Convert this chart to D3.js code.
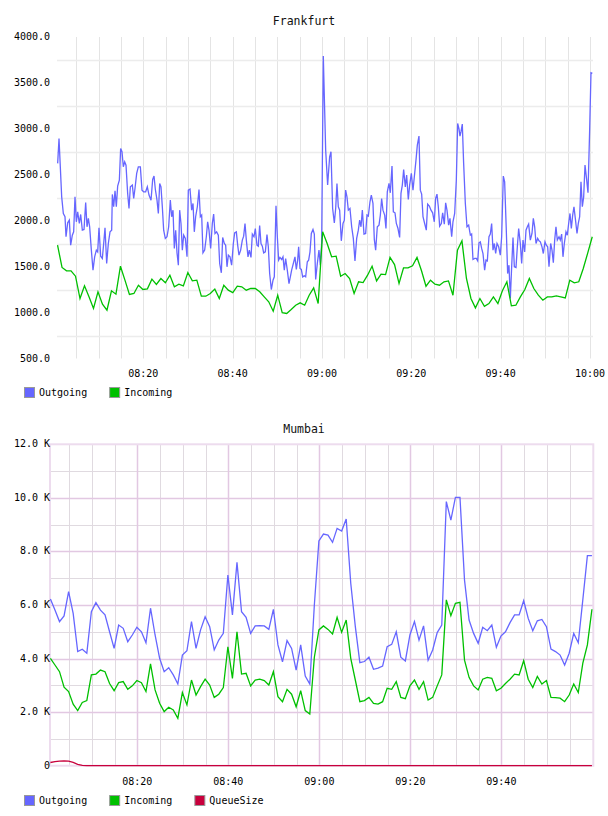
<!DOCTYPE html>
<html>
<head>
<meta charset="utf-8">
<script src="https://cdn.jsdelivr.net/npm/d3@7"></script>
<style>
body { margin: 0; background: #fff; }
text { font-family: "DejaVu Sans Mono", monospace; font-size: 10px; fill: #000; }
text.title { font-size: 11.5px; fill: #111; }
</style>
</head>
<body>
<div id="chart"></div>
<script>
// minutes after 08:00 for every sample
const fraOutgoing = [
  [0.83,2624],[1.13,2896],[1.73,2260],[2.1,2079],[2.47,2043],[2.7,1825],[3.07,1977],[3.44,2006],[3.74,1734],[4.11,1843],
  [4.41,1879],[4.71,2260],[5.01,1988],[5.31,2097],[5.68,1970],[5.98,2068],[6.35,1897],[6.73,1905],[7.1,2199],[7.4,1934],
  [7.7,2025],[7.99,1934],[8.37,1680],[8.74,1462],[9.11,1607],[9.49,1680],[9.79,1661],[10.08,1923],[10.46,1614],[10.83,1589],
  [11.13,1752],[11.43,1923],[11.8,1534],[12.17,1752],[12.55,1879],[12.92,1897],[13.07,2286],[13.37,2152],[13.67,2326],[13.96,2152],
  [14.26,2377],[14.64,2442],[14.93,2787],[15.23,2751],[15.53,2587],[15.83,2642],[16.13,2605],[16.5,2297],[16.8,2133],[17.1,2369],
  [17.55,2388],[17.85,2242],[18.14,2351],[18.52,2515],[18.89,2587],[19.34,2587],[19.71,2333],[20.08,2315],[20.53,2315],[20.9,2369],
  [21.28,2279],[21.73,2224],[22.1,2449],[22.4,2486],[22.7,2340],[23.07,2224],[23.37,2079],[23.67,2406],[23.96,2369],[24.26,2152],
  [24.56,1897],[24.93,1807],[25.31,1825],[25.68,1934],[26.05,2224],[26.35,2043],[26.65,2115],[26.95,1698],[27.25,1897],[27.55,1650],
  [27.85,1516],[28.14,2115],[28.44,1970],[28.74,1680],[29.04,1843],[29.41,1807],[29.79,1607],[30.08,2333],[30.46,2345],[30.83,2115],
  [31.13,2188],[31.42,1879],[31.72,2043],[32.1,2152],[32.47,2340],[32.77,2043],[33.07,2061],[33.36,1650],[33.74,1680],[34.11,1825],
  [34.41,1988],[34.71,1897],[35.08,1698],[35.45,1970],[35.75,2072],[36.05,1861],[36.42,1879],[36.8,1843],[37.1,1534],[37.47,1433],
  [37.77,1818],[38.14,1752],[38.44,1734],[38.74,1498],[39.04,1625],[39.41,1607],[39.78,1516],[40.16,1752],[40.45,1868],[40.83,1879],
  [41.13,1734],[41.42,1625],[41.8,1680],[42.17,1789],[42.47,1832],[42.77,1970],[43.07,1789],[43.44,1607],[43.74,1680],[44.11,1600],
  [44.41,1854],[44.78,1825],[45.08,1915],[45.45,1734],[45.75,1723],[46.05,1948],[46.35,1752],[46.65,1723],[46.95,1650],[47.32,1661],
  [47.69,1850],[47.99,1716],[48.29,1425],[48.66,1251],[49.04,1353],[49.33,1389],[49.71,2163],[50.01,1825],[50.3,1571],[50.6,1600],
  [50.98,1578],[51.27,1607],[51.57,1462],[51.87,1589],[52.24,1462],[52.62,1316],[52.92,1389],[53.21,1462],[53.59,1534],[53.96,1607],
  [54.26,1469],[54.56,1571],[54.78,1716],[55.08,1480],[55.38,1469],[55.68,1389],[56.05,1400],[56.35,1389],[56.72,1553],[57.02,1571],
  [57.32,1661],[57.62,1861],[57.99,1905],[58.29,1854],[58.59,1360],[58.96,1534],[59.33,1680],[59.63,1516],[59.93,1752],[60.3,3793],
  [60.83,2769],[61.27,2388],[61.72,2696],[62.02,2751],[62.39,2133],[62.77,1977],[63.07,2133],[63.36,2406],[63.66,2152],[63.96,2115],
  [64.33,1781],[64.71,1970],[65.01,2006],[65.3,2333],[65.6,2260],[65.9,2115],[66.27,2133],[66.65,1934],[67.02,1807],[67.39,1563],
  [67.77,1807],[68.14,1897],[68.44,2006],[68.74,1934],[69.04,2115],[69.41,1854],[69.78,1861],[70.08,2061],[70.38,2050],[70.75,2206],
  [71.05,2279],[71.42,2188],[71.72,1796],[72.02,1680],[72.39,1934],[72.77,1952],[73.07,2061],[73.36,2242],[73.66,2115],[74.04,2061],
  [74.33,1915],[74.63,2315],[75.01,2406],[75.3,2304],[75.68,2595],[75.98,2097],[76.35,2086],[76.65,1970],[77.02,1915],[77.39,1818],
  [77.69,2297],[77.99,2388],[78.29,2558],[78.66,2369],[78.96,2497],[79.33,2231],[79.63,2388],[80.01,2515],[80.38,2333],[80.68,2478],
  [81.05,2660],[81.35,2823],[81.72,2921],[82.02,2333],[82.32,2290],[82.62,2043],[82.99,1970],[83.36,1897],[83.66,2181],[84.04,2159],
  [84.41,2115],[84.78,2086],[85.15,1988],[85.45,2242],[85.75,2290],[86.05,2152],[86.35,1941],[86.72,1970],[87.02,2086],[87.39,1963],
  [87.69,2195],[87.99,2115],[88.36,1952],[88.66,2025],[89.04,1825],[89.33,1988],[89.71,2079],[90.08,2442],[90.38,3059],[90.68,3000],
  [90.9,2921],[91.13,2969],[91.42,3052],[91.72,2624],[92.1,2188],[92.47,1934],[92.84,1952],[93.22,1843],[93.51,1854],[93.81,1578],
  [94.19,1589],[94.56,1589],[94.86,1563],[95.16,1759],[95.45,1770],[95.75,1698],[96.05,1643],[96.42,1462],[96.72,1571],[97.02,1563],
  [97.39,1825],[97.69,1854],[97.99,1970],[98.29,1680],[98.59,1752],[98.89,1643],[99.19,1752],[99.56,1716],[99.93,1625],[100.23,1825],
  [100.6,2486],[100.9,2424],[101.27,1897],[101.57,1425],[101.87,1516],[102.17,1153],[102.47,1498],[102.77,1818],[103.07,1498],[103.44,1491],
  [103.74,1716],[104.04,1915],[104.41,1752],[104.71,1534],[105.01,1789],[105.38,1661],[105.68,1897],[105.98,1934],[106.27,1963],[106.65,1789],
  [107.02,1861],[107.32,2025],[107.62,1934],[107.92,1752],[108.29,1807],[108.59,1781],[108.89,1770],[109.26,1716],[109.56,1643],[109.93,1770],
  [110.23,1734],[110.53,1716],[110.83,1498],[111.2,1752],[111.5,1680],[111.8,1542],[112.1,1789],[112.39,1934],[112.69,1789],[113.07,1825],
  [113.36,1789],[113.66,1854],[113.96,1607],[114.26,1752],[114.63,1879],[114.93,1843],[115.23,1970],[115.53,2079],[115.83,1915],[116.13,2061],
  [116.42,2152],[116.72,2025],[117.1,1861],[117.39,1970],[117.69,2043],[117.99,2424],[118.29,2152],[118.59,2260],[118.89,2605],[119.19,2478],
  [119.56,2304],[119.93,2987],[120.23,3611],[120.53,3604]
];

// one sample a minute
const fraIncomingStart = 0.8, fraIncomingStep = 1.006;
const fraIncoming = [
  1734,1491,1455,1455,1396,1153,1291,1171,1044,1226,1091,1026,1237,1200,1505,1353,1197,1208,1298,1251,
  1258,1364,1306,1371,1324,1407,1280,1309,1291,1436,1345,1353,1178,1178,1208,1255,1153,1298,1244,1218,
  1287,1280,1244,1262,1262,1226,1171,1117,1015,1189,1000,990,1033,1080,1106,1080,1189,1269,1098,1879,
  1752,1607,1614,1396,1425,1371,1208,1335,1327,1407,1505,1345,1418,1414,1600,1523,1316,1487,1487,1509,
  1600,1455,1287,1353,1309,1298,1335,1345,1189,1680,1781,1371,1153,1051,1153,1069,1098,1171,1098,1237,
  1335,1073,1080,1171,1251,1371,1262,1189,1135,1171,1171,1182,1171,1160,1353,1324,1335,1480,1650,1825
];

const mumStart = 0.9, mumStep = 1.0;
const mumOutgoing = [
  6220,5810,5380,5590,6500,5690,4260,4350,4200,5750,6090,5810,5630,5000,4380,5250,5130,4630,4880,5170,
  5000,4590,5880,4880,4010,3510,3660,3390,3050,4130,4290,5380,4380,5070,5560,5190,4320,4690,4940,7120,
  5630,7590,5750,5540,4940,5220,5230,5220,5090,5840,4510,3880,4670,4380,3570,4510,3350,3050,6000,8390,
  8650,8610,8340,8860,8760,9210,6810,5200,3850,3890,4050,3600,3640,3720,4440,4530,5000,4050,3910,4880,
  5380,4690,5220,3940,4320,4970,5250,9860,9170,10020,10020,6930,5440,4940,4570,5170,5040,5250,4420,4840,
  5000,5340,5630,5630,6160,5500,5040,5410,5460,5190,4350,4260,4130,3760,4200,4940,4590,6200,7840,7840
];
const mumIncoming = [
  4010,3760,3510,2930,2770,2300,2060,2360,2430,3390,3420,3570,3510,3070,2800,3100,3140,2850,2980,3180,
  3100,2770,3800,2830,2330,2020,2180,2080,1770,2730,2270,3200,2640,2950,3230,3010,2550,2670,2920,4440,
  3260,5000,3420,3450,2980,3200,3230,3180,3010,3510,2580,2390,2850,2670,2200,2800,2060,1930,4050,5070,
  5220,5090,4920,5540,4980,5440,4010,3200,2390,2430,2550,2330,2300,2390,2890,2850,3140,2550,2500,2980,
  3200,2850,3140,2450,2550,2980,3390,6190,5600,6060,6100,3940,3300,2980,2830,3230,3300,3260,2800,2890,
  3070,3230,3420,3390,3920,3230,2920,3330,3050,3180,2550,2540,2520,2390,2640,3050,2730,3830,4510,5840
];
const mumQueueSize = [
  120,150,170,180,170,120,50,10,0,0,0,0,0,0,0,0,0,0,0,0,
  0,0,0,0,0,0,0,0,0,0,0,0,0,0,0,0,0,0,0,0,
  0,0,0,0,0,0,0,0,0,0,0,0,0,0,0,0,0,0,0,0,
  0,0,0,0,0,0,0,0,0,0,0,0,0,0,0,0,0,0,0,0,
  0,0,0,0,0,0,0,0,0,0,0,0,0,0,0,0,0,0,0,0,
  0,0,0,0,0,0,0,0,0,0,0,0,0,0,0,0,0,0,0,0
];

const fraYTicks = [500, 1000, 1500, 2000, 2500, 3000, 3500, 4000];
const fraYGrid = [750, 1250, 1750, 2250, 2750, 3250, 3750];
const mumYTicks = [0, 2000, 4000, 6000, 8000, 10000, 12000];
const mumYMinor = [1000, 3000, 5000, 7000, 9000, 11000];

const colors = { Outgoing: '#6666ff', Incoming: '#00c000', QueueSize: '#c8003c' };

const base = new Date(2000, 0, 1, 8, 0);
const toTime = m => new Date(+base + m * 60000);
const timeFmt = d3.timeFormat('%H:%M');

const svg = d3.select('#chart').append('svg')
    .attr('width', 608)
    .attr('height', 816);

function legend(y, names) {
    const g = svg.append('g').attr('transform', `translate(24,${y})`);
    let x = 0;
    names.forEach(name => {
        g.append('rect')
            .attr('x', x + 0.5).attr('y', -4.5)
            .attr('width', 10).attr('height', 10)
            .attr('fill', colors[name])
            .attr('stroke', '#999');
        const t = g.append('text')
            .attr('x', x + 15).attr('y', 1)
            .attr('dominant-baseline', 'middle')
            .text(name);
        x += 15 + t.node().getComputedTextLength() + 22;
    });
}

// ---------- Frankfurt ----------
const fx = d3.scaleTime().domain([toTime(0.68), toTime(120.68)]).range([57, 593]);
const fy = d3.scaleLinear().domain([500, 4000]).range([358.5, 37]);

svg.append('text').attr('class', 'title')
    .attr('x', 304).attr('y', 21)
    .attr('text-anchor', 'middle').attr('dominant-baseline', 'middle')
    .text('Frankfurt');

svg.append('g').selectAll('line')
    .data(fx.ticks(d3.timeMinute.every(5)))
    .join('line')
    .attr('x1', d => Math.round(fx(d)) + 0.5).attr('x2', d => Math.round(fx(d)) + 0.5)
    .attr('y1', 37).attr('y2', 358.5)
    .attr('stroke', '#e4e4e4');

svg.append('g').selectAll('line')
    .data(fraYGrid)
    .join('line')
    .attr('x1', 57).attr('x2', 593)
    .attr('y1', d => Math.round(fy(d)) + 0.5).attr('y2', d => Math.round(fy(d)) + 0.5)
    .attr('stroke', '#ececec').attr('stroke-width', 1.5);

svg.append('g').selectAll('text')
    .data(fraYTicks)
    .join('text')
    .attr('x', 50).attr('y', d => fy(d))
    .attr('text-anchor', 'end').attr('dominant-baseline', 'middle')
    .text(d => d3.format('.1f')(d));

svg.append('g').selectAll('text')
    .data(fx.ticks(d3.timeMinute.every(20)))
    .join('text')
    .attr('x', d => fx(d)).attr('y', 374)
    .attr('text-anchor', 'middle').attr('dominant-baseline', 'middle')
    .text(timeFmt);

const fLine = d3.line().x(d => fx(d[0])).y(d => fy(d[1]));

svg.append('path')
    .datum(fraOutgoing.map(d => [toTime(d[0]), d[1]]))
    .attr('d', fLine)
    .attr('fill', 'none').attr('stroke', colors.Outgoing).attr('stroke-width', 1.3);

svg.append('path')
    .datum(fraIncoming.map((v, i) => [toTime(fraIncomingStart + i * fraIncomingStep), v]))
    .attr('d', fLine)
    .attr('fill', 'none').attr('stroke', colors.Incoming).attr('stroke-width', 1.3);

legend(392, ['Outgoing', 'Incoming']);

// ---------- Mumbai ----------
const mx = d3.scaleTime().domain([toTime(0.81), toTime(120.2)]).range([50, 593.3]);
const my = d3.scaleLinear().domain([0, 12000]).range([765.7, 444.3]);

svg.append('text').attr('class', 'title')
    .attr('x', 304).attr('y', 429)
    .attr('text-anchor', 'middle').attr('dominant-baseline', 'middle')
    .text('Mumbai');

// the 10:00 line falls on the frame, so it gets neither grid line nor label
const inside = d => mx(d) < 589;
const minorTicks = mx.ticks(d3.timeMinute.every(5)).filter(d => d.getMinutes() % 20 !== 0 && inside(d));
const majorTicks = mx.ticks(d3.timeMinute.every(20)).filter(inside);

svg.append('g').selectAll('line')
    .data(minorTicks)
    .join('line')
    .attr('x1', d => Math.round(mx(d)) + 0.5).attr('x2', d => Math.round(mx(d)) + 0.5)
    .attr('y1', 444.3).attr('y2', 765.7)
    .attr('stroke', '#e0dae0');

svg.append('g').selectAll('line')
    .data(mumYMinor)
    .join('line')
    .attr('x1', 50).attr('x2', 593.3)
    .attr('y1', d => Math.round(my(d)) + 0.5).attr('y2', d => Math.round(my(d)) + 0.5)
    .attr('stroke', '#e0dae0');

svg.append('g').selectAll('line')
    .data(majorTicks)
    .join('line')
    .attr('x1', d => Math.round(mx(d)) + 0.5).attr('x2', d => Math.round(mx(d)) + 0.5)
    .attr('y1', 444.3).attr('y2', 765.7)
    .attr('stroke', '#e2c8e2').attr('stroke-width', 1.5);

svg.append('g').selectAll('line')
    .data(mumYTicks.slice(1, -1))
    .join('line')
    .attr('x1', 50).attr('x2', 593.3)
    .attr('y1', d => Math.round(my(d)) + 0.5).attr('y2', d => Math.round(my(d)) + 0.5)
    .attr('stroke', '#e2c8e2').attr('stroke-width', 1.5);

svg.append('rect')
    .attr('x', 50).attr('y', 444.3)
    .attr('width', 543.3).attr('height', 321.4)
    .attr('fill', 'none').attr('stroke', '#eddcee').attr('stroke-width', 2);

svg.append('g').selectAll('text')
    .data(mumYTicks)
    .join('text')
    .attr('x', 50).attr('y', d => my(d))
    .attr('text-anchor', 'end').attr('dominant-baseline', 'middle')
    .text(d => d === 0 ? '0 ' : d3.format('.1f')(d / 1000) + ' K');

svg.append('g').selectAll('text')
    .data(majorTicks)
    .join('text')
    .attr('x', d => mx(d)).attr('y', 782)
    .attr('text-anchor', 'middle').attr('dominant-baseline', 'middle')
    .text(timeFmt);

const mLine = d3.line()
    .x((d, i) => mx(toTime(mumStart + i * mumStep)))
    .y(d => my(d));

[['Outgoing', mumOutgoing], ['Incoming', mumIncoming], ['QueueSize', mumQueueSize]].forEach(([name, values]) => {
    svg.append('path')
        .datum(values)
        .attr('d', mLine)
        .attr('fill', 'none').attr('stroke', colors[name]).attr('stroke-width', 1.3);
});

legend(800, ['Outgoing', 'Incoming', 'QueueSize']);
</script>
</body>
</html>
